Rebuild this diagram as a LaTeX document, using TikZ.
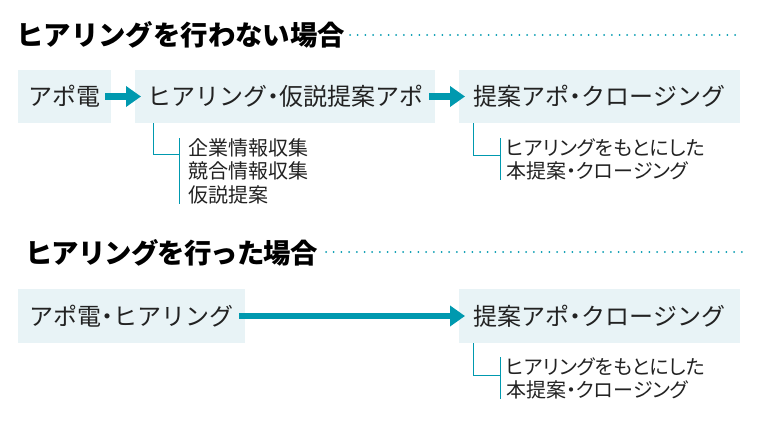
\documentclass[tikz,border=0pt]{standalone}
\usepackage{fontspec}
\setmainfont{Noto Sans CJK JP}
\newfontfamily\notefont[RawFeature=+palt]{Noto Sans CJK JP}
\newfontfamily\tightfont[LetterSpace=-3.2]{Noto Sans CJK JP}
\usepackage{tikz}
\usetikzlibrary{positioning,arrows.meta}

\definecolor{flowteal}{HTML}{0099AF}
\definecolor{boxfill}{HTML}{E8F3F6}
\definecolor{inkgray}{HTML}{222222}
\newcommand{\naka}{\hspace{-.25em}・\hspace{-.25em}}

\begin{document}
\begin{tikzpicture}
  [x=1pt,y=-1pt,
   box/.style={fill=boxfill,minimum height=53pt,inner sep=0pt,anchor=west,
     text=inkgray,font=\fontsize{24}{24}\selectfont},
   heading/.style={anchor=base west,inner sep=0pt,text=black,
     font=\bfseries\fontsize{27.4}{27.4}\selectfont},
   flow/.style={draw=flowteal,line width=6.5pt,shorten <=-6pt,shorten >=-6pt,
     -{Triangle[length=15pt,width=20pt]}},
   dotline/.style={draw=flowteal,line width=2pt,line cap=round,
     dash pattern=on 0pt off 7.7pt},
   note/.style={anchor=north west,align=left,inner sep=0pt,text=inkgray,
     font=\notefont\fontsize{20}{23.5}\selectfont},
   bracket/.style={draw=flowteal,line width=1pt}]
  \useasboundingbox (0,0) rectangle (760,428);

  % without hearing
  \node[heading] (t1) at (16,46) {ヒアリングを行わない場合};
  \draw[dotline] (350,35) -- (742,35);

  \node[box,minimum width=93pt] (b1) at (18,96.5) {アポ電};
  \node[box,minimum width=300pt] (b2) at (135,96.5) {ヒアリング\naka 仮説提案アポ};
  \node[box,minimum width=281pt] (b3) at (459,96.5) {提案アポ\naka クロージング};

  \draw[flow] (b1) -- (b2);
  \draw[flow] (b2) -- (b3);

  \node[note] (n1) at (188,138) {企業情報収集\\競合情報収集\\仮説提案};
  \draw[bracket] ([xshift=-9pt]n1.north west) -- ([xshift=-9pt]n1.south west);
  \coordinate (k1) at (179,154);
  \draw[bracket] ([xshift=18pt]b2.south west) |- (k1);

  \node[note] (n2) at (506,138) {ヒアリングをもとにした\\本提案・クロージング};
  \draw[bracket] ([xshift=-6pt]n2.north west) -- ([xshift=-6pt]n2.south west);
  \coordinate (k2) at (500,155);
  \draw[bracket] ([xshift=14pt]b3.south west) |- (k2);

  % with hearing
  \node[heading,font=\tightfont\bfseries\fontsize{27.4}{27.4}\selectfont] (t2) at (25,263) {ヒアリングを行った場合};
  \draw[dotline] (326,252) -- (742,252);

  \node[box,minimum width=227pt,minimum height=54pt] (c1) at (18,316) {アポ電\naka ヒアリング};
  \node[box,minimum width=281pt,minimum height=54pt] (c2) at (459,316) {提案アポ\naka クロージング};

  \draw[flow] (c1) -- (c2);

  \node[note] (n3) at (506,357) {ヒアリングをもとにした\\本提案・クロージング};
  \draw[bracket] ([xshift=-6pt]n3.north west) -- ([xshift=-6pt]n3.south west);
  \coordinate (k3) at (500,375);
  \draw[bracket] ([xshift=14pt]c2.south west) |- (k3);
\end{tikzpicture}
\end{document}
